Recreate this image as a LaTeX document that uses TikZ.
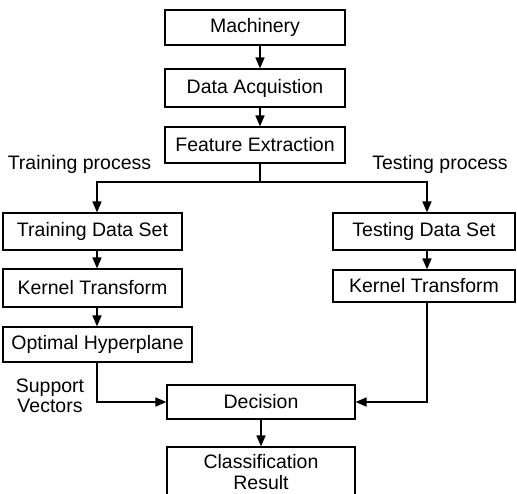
\documentclass[tikz,border=0pt]{standalone}
\usepackage{fontspec}
\setmainfont{Liberation Sans}
\usetikzlibrary{arrows.meta}
\begin{document}
\begin{tikzpicture}[x=1pt,y=-1pt,
  every node/.style={font=\fontsize{19.5}{20.5}\selectfont},
  stage/.style={draw, line width=1.2pt, inner sep=0pt, align=center},
  flow/.style={line width=1.7pt, -{Triangle[length=11pt,width=9pt]}},
  link/.style={line width=1.7pt},
  caption/.style={align=center}]
\useasboundingbox (0,0) rectangle (517,493);

% main column
\node[stage, minimum width=180pt, minimum height=35pt] (mach) at (255,27.5) {Machinery};
\node[stage, minimum width=180pt, minimum height=38pt] (acq)  at (255,88)   {Data Acquistion};
\node[stage, minimum width=180pt, minimum height=36pt] (feat) at (255,145)  {Feature Extraction};

% training branch
\node[stage, minimum width=179pt, minimum height=37pt] (trset) at (92.5,231.5) {Training Data Set};
\node[stage, minimum width=179pt, minimum height=38pt] (trker) at (92.5,288)   {Kernel Transform};
\node[stage, minimum width=189pt, minimum height=35pt] (hyper) at (97.5,344.5) {Optimal Hyperplane};

% testing branch
\node[stage, minimum width=182pt, minimum height=37pt] (teset) at (424,231.5) {Testing Data Set};
\node[stage, minimum width=182pt, minimum height=32pt] (teker) at (424,286)   {Kernel Transform};

% decision and result
\node[stage, minimum width=188pt, minimum height=34pt] (dec) at (261,402) {Decision};
\node[stage, minimum width=188pt, minimum height=50pt] (cls) at (261,472) {Classification\\Result};

% labels
\node[caption] (trlab) at (79.5,164) {Training process};
\node[caption] (telab) at (440,164) {Testing process};
\node[caption] (svlab) at (50,396) {Support\\Vectors};

% column positions of the connectors
\coordinate (spine) at (260,0);
\coordinate (lcol) at (97,0);
\coordinate (rcol) at (427,0);
\coordinate (split) at (260,182);

% connectors
\draw[flow] (mach.south -| spine) -- (acq.north -| spine);
\draw[flow] (acq.south -| spine) -- (feat.north -| spine);
\draw[link] (feat.south -| spine) -- (split);
\draw[flow] (split) -| (trset.north -| lcol);
\draw[flow] (split) -| (teset.north -| rcol);
\draw[flow] (trset.south -| lcol) -- (trker.north -| lcol);
\draw[flow] (trker.south -| lcol) -- (hyper.north -| lcol);
\draw[flow] (teset.south -| rcol) -- (teker.north -| rcol);
\draw[flow] (hyper.south -| lcol) |- (dec.west);
\draw[flow] (teker.south -| rcol) |- (dec.east);
\draw[flow] (dec.south) -- (cls.north);
\end{tikzpicture}
\end{document}
